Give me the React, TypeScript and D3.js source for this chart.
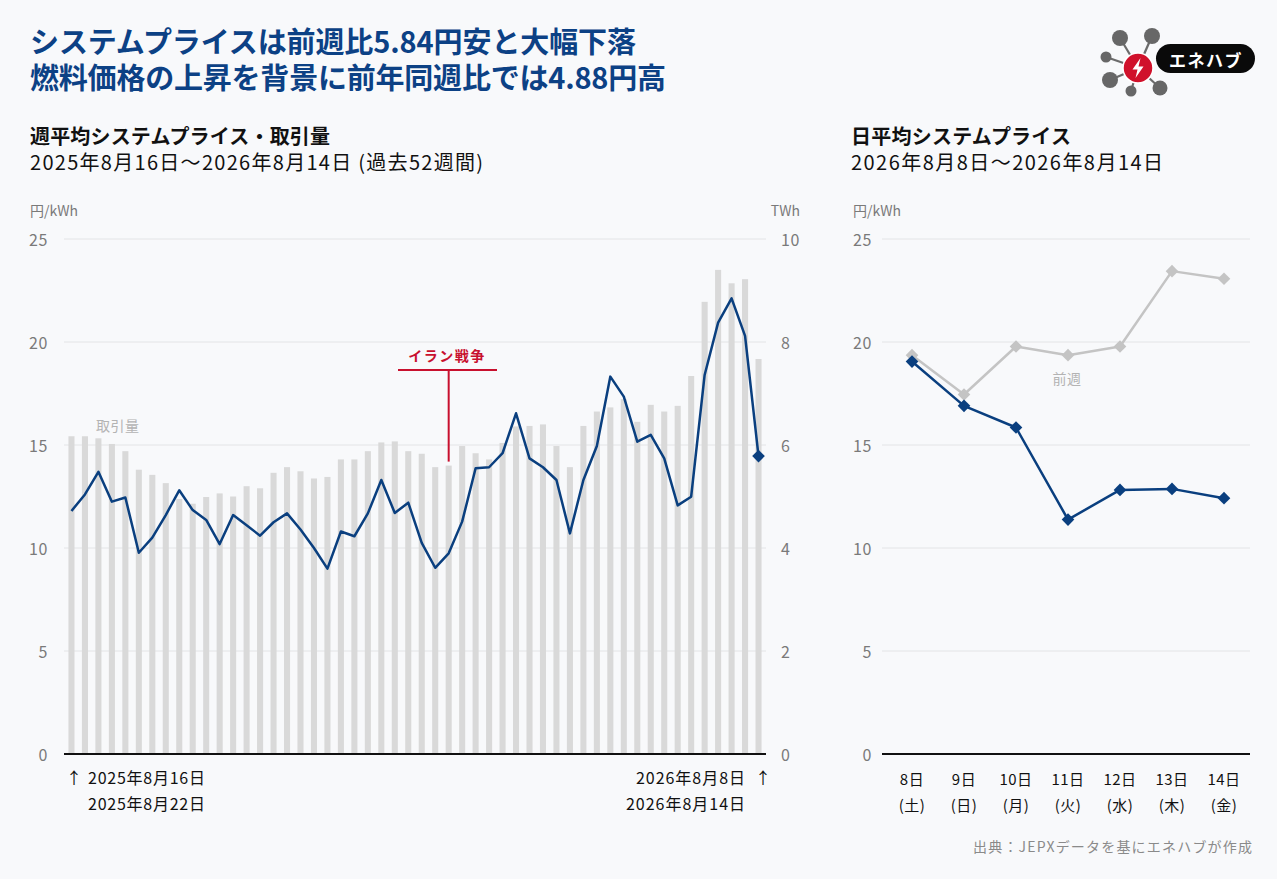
import React from 'react';
import * as d3 from 'd3';

const W = 1277;
const H = 879;
const FONT = '"Noto Sans CJK JP", "Noto Sans", sans-serif';
const NAVY = '#0a3f7f';
const GRID = '#e3e4e6';

// weekly (52 weeks, 2025-08-16 .. 2026-08-14)
const weekStarts = d3.range(52).map(i => d3.timeDay.offset(new Date(2025, 7, 16), i * 7));
const weekVolumes = [
  6.17, 6.17, 6.13, 6.02, 5.88, 5.52, 5.42, 5.26, 4.95, 4.86,
  4.99, 5.06, 5.0, 5.2, 5.16, 5.46, 5.57, 5.49, 5.35, 5.38,
  5.72, 5.72, 5.88, 6.05, 6.07, 5.88, 5.83, 5.57, 5.6, 5.98,
  5.84, 5.72, 6.04, 6.36, 6.37, 6.4, 5.98, 5.57, 6.37, 6.65,
  6.73, 6.89, 6.45, 6.78, 6.65, 6.76, 7.34, 8.78, 9.4, 9.14,
  9.22, 7.67,
];
const weekPrices = [
  11.8, 12.6, 13.7, 12.25, 12.45, 9.77, 10.5, 11.6, 12.8, 11.84,
  11.36, 10.19, 11.6, 11.1, 10.6, 11.25, 11.68, 10.9, 10.0, 9.0,
  10.8, 10.57, 11.68, 13.3, 11.7, 12.2, 10.25, 9.04, 9.74, 11.28,
  13.87, 13.92, 14.6, 16.54, 14.35, 13.92, 13.3, 10.71, 13.3, 14.95,
  18.32, 17.35, 15.16, 15.49, 14.35, 12.07, 12.49, 18.4, 20.94, 22.12,
  20.3, 14.46,
];
const priceTicks = [0, 5, 10, 15, 20, 25];
const volumeTicks = [0, 2, 4, 6, 8, 10];
const eventWeek = 28; // イラン戦争

// daily (2026-08-08 .. 08-14)
const dayLabels = ['8日', '9日', '10日', '11日', '12日', '13日', '14日'];
const weekdayLabels = ['(土)', '(日)', '(月)', '(火)', '(水)', '(木)', '(金)'];
const dailyPrices = [19.05, 16.9, 15.85, 11.38, 12.82, 12.87, 12.42];
const prevWeekPrices = [19.36, 17.45, 19.78, 19.36, 19.78, 23.44, 23.07];

const diamond = d3.symbol(d3.symbolSquare, 80)();

const Logo: React.FC = () => {
  const c = { x: 1138, y: 68 };
  const nodes = [
    { x: 1120, y: 38, r: 8 },
    { x: 1152, y: 36, r: 8 },
    { x: 1106, y: 57, r: 5.5 },
    { x: 1110, y: 80, r: 8 },
    { x: 1131, y: 91, r: 5.5 },
    { x: 1160, y: 88, r: 7.5 },
  ];
  return (
    <g>
      {nodes.map((n, i) => (
        <line key={i} x1={c.x} y1={c.y} x2={n.x} y2={n.y} stroke="#6b6b6b" strokeWidth={2.2} />
      ))}
      {nodes.map((n, i) => (
        <circle key={i} cx={n.x} cy={n.y} r={n.r} fill="#676767" />
      ))}
      <circle cx={c.x} cy={c.y} r={15} fill="#d0112b" stroke="#fff" strokeWidth={1.5} />
      <path
        d={`M${c.x + 2.5},${c.y - 10} L${c.x - 5.5},${c.y + 1.5} L${c.x - 0.5},${c.y + 1.5} L${c.x - 2.5},${c.y + 10} L${c.x + 5.5},${c.y - 1.5} L${c.x + 0.5},${c.y - 1.5} Z`}
        fill="#fff"
      />
      <rect x={1156} y={44} width={99} height={29} rx={14.5} fill="#0a0a0a" />
      <text x={1206} y={59} textAnchor="middle" dominantBaseline="central" fill="#fff"
        fontSize={17} fontWeight={700} letterSpacing={1.5}>エネハブ</text>
    </g>
  );
};

export default function App() {
  const yPrice = d3.scaleLinear().domain([0, 25]).range([754, 239]);
  const yVol = d3.scaleLinear().domain([0, 10]).range([754, 239]);
  const xWeek = d3.scaleBand<number>()
    .domain(d3.range(weekStarts.length))
    .range([64, 766])
    .paddingInner(0.55)
    .paddingOuter(0.33);
  const wc = (i: number) => (xWeek(i) ?? 0) + xWeek.bandwidth() / 2;

  const weekLine = d3.line<number>()
    .x((_, i) => wc(i))
    .y(d => yPrice(d));

  const xDay = d3.scaleBand<string>().domain(dayLabels).range([886, 1250]);
  const dc = (i: number) => (xDay(dayLabels[i]) ?? 0) + xDay.bandwidth() / 2;
  const dayLine = d3.line<number>()
    .x((_, i) => dc(i))
    .y(d => yPrice(d));

  const last = weekPrices.length - 1;
  const ex = wc(eventWeek);

  return (
    <div style={{ position: 'absolute', left: 0, top: 0 }}>
      <svg width={W} height={H} fontFamily={FONT} style={{ display: 'block' }}>
        <rect width={W} height={H} fill="#f8f9fb" />

        {/* headline */}
        <text x={30} y={53} fontSize={29} fontWeight={700} fill="#0c4185" textLength={606} lengthAdjust="spacing">
          システムプライスは前週比5.84円安と大幅下落
        </text>
        <text x={30} y={89} fontSize={29} fontWeight={700} fill="#0c4185" textLength={636} lengthAdjust="spacing">
          燃料価格の上昇を背景に前年同週比では4.88円高
        </text>
        <Logo />

        {/* left chart titles */}
        <text x={30} y={144} fontSize={20} fontWeight={700} fill="#111" textLength={300} lengthAdjust="spacing">週平均システムプライス・取引量</text>
        <text x={30} y={170} fontSize={20} fill="#111" textLength={453} lengthAdjust="spacing">2025年8月16日〜2026年8月14日 (過去52週間)</text>
        <text x={30} y={216} fontSize={14} fill="#7a7a7a">円/kWh</text>
        <text x={800} y={216} fontSize={14} fill="#7a7a7a" textAnchor="end">TWh</text>

        {/* grid + ticks */}
        {priceTicks.map(t => (
          <g key={t}>
            {t > 0 && <line x1={64} x2={766} y1={yPrice(t)} y2={yPrice(t)} stroke={GRID} strokeWidth={1} />}
            <text x={48} y={yPrice(t)} dominantBaseline="central" textAnchor="end" fontSize={16} letterSpacing={0.6} fill="#7a7a7a">{t}</text>
          </g>
        ))}
        {volumeTicks.map(t => (
          <text key={t} x={781} y={yVol(t)} dominantBaseline="central" fontSize={16} letterSpacing={0.6} fill="#7a7a7a">{t}</text>
        ))}

        {/* volume bars */}
        {weekVolumes.map((v, i) => (
          <rect key={i} x={xWeek(i)} y={yVol(v)} width={xWeek.bandwidth()} height={yVol(0) - yVol(v)} fill="#d9d9d9" />
        ))}
        <text x={96} y={425} dominantBaseline="central" fontSize={14} fill="#b3b3b3" letterSpacing={0.5}>取引量</text>

        {/* event annotation */}
        <text x={447} y={355} textAnchor="middle" dominantBaseline="central" fontSize={14} fontWeight={700}
          fill="#c8102e" letterSpacing={1.5}>イラン戦争</text>
        <line x1={398} x2={497} y1={370} y2={370} stroke="#c8102e" strokeWidth={2} />
        <line x1={ex} x2={ex} y1={370} y2={yVol(weekVolumes[eventWeek]) - 4} stroke="#c8102e" strokeWidth={2} />

        {/* weekly price line */}
        <path d={weekLine(weekPrices) ?? ''} fill="none" stroke={NAVY} strokeWidth={2.5} strokeLinejoin="round" />
        <path d={diamond} transform={`translate(${wc(last)},${yPrice(weekPrices[last])}) rotate(45)`} fill={NAVY} />

        <line x1={64} x2={766} y1={yPrice(0)} y2={yPrice(0)} stroke="#111" strokeWidth={2} />

        {/* period labels */}
        <text x={66} y={777} dominantBaseline="central" fontSize={16} fill="#111">↑</text>
        <text x={88} y={777} dominantBaseline="central" fontSize={16} fill="#111" textLength={117} lengthAdjust="spacing">2025年8月16日</text>
        <text x={88} y={803} dominantBaseline="central" fontSize={16} fill="#111" textLength={117} lengthAdjust="spacing">2025年8月22日</text>
        <text x={636} y={777} dominantBaseline="central" fontSize={16} fill="#111" textLength={109} lengthAdjust="spacing">2026年8月8日</text>
        <text x={755} y={777} dominantBaseline="central" fontSize={16} fill="#111">↑</text>
        <text x={626} y={803} dominantBaseline="central" fontSize={16} fill="#111" textLength={119} lengthAdjust="spacing">2026年8月14日</text>

        {/* right chart */}
        <text x={851} y={144} fontSize={20} fontWeight={700} fill="#111" textLength={220} lengthAdjust="spacing">日平均システムプライス</text>
        <text x={851} y={170} fontSize={20} fill="#111" textLength={312} lengthAdjust="spacing">2026年8月8日〜2026年8月14日</text>
        <text x={853} y={216} fontSize={14} fill="#7a7a7a">円/kWh</text>
        {priceTicks.map(t => (
          <g key={t}>
            {t > 0 && <line x1={882} x2={1250} y1={yPrice(t)} y2={yPrice(t)} stroke={GRID} strokeWidth={1} />}
            <text x={872} y={yPrice(t)} dominantBaseline="central" textAnchor="end" fontSize={16} letterSpacing={0.6} fill="#7a7a7a">{t}</text>
          </g>
        ))}

        <path d={dayLine(prevWeekPrices) ?? ''} fill="none" stroke="#c4c4c4" strokeWidth={2.5} strokeLinejoin="round" />
        {prevWeekPrices.map((p, i) => (
          <path key={i} d={diamond} transform={`translate(${dc(i)},${yPrice(p)}) rotate(45)`} fill="#c4c4c4" />
        ))}
        <text x={1067} y={378} textAnchor="middle" dominantBaseline="central" fontSize={14} fill="#b3b3b3" letterSpacing={0.5}>前週</text>

        <path d={dayLine(dailyPrices) ?? ''} fill="none" stroke={NAVY} strokeWidth={2.5} strokeLinejoin="round" />
        {dailyPrices.map((p, i) => (
          <path key={i} d={diamond} transform={`translate(${dc(i)},${yPrice(p)}) rotate(45)`} fill={NAVY} />
        ))}

        <line x1={882} x2={1250} y1={yPrice(0)} y2={yPrice(0)} stroke="#111" strokeWidth={2} />
        {dayLabels.map((d, i) => (
          <g key={d}>
            <text x={dc(i)} y={778} textAnchor="middle" dominantBaseline="central" fontSize={15} letterSpacing={0.5} fill="#111">{d}</text>
            <text x={dc(i)} y={804} textAnchor="middle" dominantBaseline="central" fontSize={15} letterSpacing={0.5} fill="#111">{weekdayLabels[i]}</text>
          </g>
        ))}

        <text x={973} y={846} dominantBaseline="central" fontSize={14} fill="#8a8a8a" textLength={279} lengthAdjust="spacing">
          出典：JEPXデータを基にエネハブが作成
        </text>
      </svg>
    </div>
  );
}
